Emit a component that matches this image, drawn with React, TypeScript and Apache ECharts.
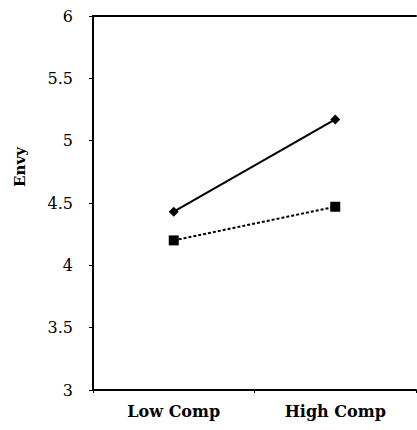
import React, { useEffect, useRef } from "react";
import * as echarts from "echarts";

const categories = ["Low Comp", "High Comp"];
const diamondSeries = [4.43, 5.17];
const squareSeries = [4.2, 4.47];
const yTicks = { min: 3, max: 6, interval: 0.5 };
const yAxisTitle = "Envy";

const FONT = "DejaVu Serif";

export default function App() {
  const ref = useRef<HTMLDivElement>(null);
  useEffect(() => {
    if (!ref.current) return;
    const chart = echarts.init(ref.current, null, { renderer: "svg" });
    chart.setOption({
      animation: false,
      backgroundColor: "#ffffff",
      grid: { left: 93, right: 1, top: 16, bottom: 40 },
      xAxis: [
        {
          type: "category",
          data: categories,
          boundaryGap: true,
          axisLine: { show: true, lineStyle: { color: "#000", width: 2 } },
          axisTick: { show: true, length: 3, lineStyle: { color: "#000", width: 1 } },
          axisLabel: {
            color: "#000",
            fontFamily: FONT,
            fontWeight: "bold",
            fontSize: 16,
            margin: 13,
          },
          splitLine: { show: false },
        },
        {
          type: "category",
          data: categories,
          position: "top",
          axisLine: { show: true, lineStyle: { color: "#000", width: 2 } },
          axisTick: { show: false },
          axisLabel: { show: false },
        },
      ],
      yAxis: {
        type: "value",
        min: yTicks.min,
        max: yTicks.max,
        interval: yTicks.interval,
        axisLine: { show: true, lineStyle: { color: "#000", width: 2 } },
        axisTick: { show: true, length: 4, lineStyle: { color: "#000", width: 1 } },
        axisLabel: {
          color: "#000",
          fontFamily: FONT,
          fontSize: 16,
          margin: 20,
        },
        splitLine: { show: false },
      },
      graphic: [
        {
          type: "text",
          x: 20,
          y: 167,
          rotation: Math.PI / 2,
          style: {
            text: yAxisTitle,
            fill: "#000",
            fontFamily: FONT,
            fontWeight: "bold",
            fontSize: 15,
            align: "center",
            verticalAlign: "middle",
          },
        },
      ],
      series: [
        {
          type: "line",
          data: diamondSeries,
          symbol: "diamond",
          symbolSize: 10,
          itemStyle: { color: "#000" },
          lineStyle: { color: "#000", width: 2, type: "solid" },
        },
        {
          type: "line",
          data: squareSeries,
          symbol: "rect",
          symbolSize: 10,
          itemStyle: { color: "#000" },
          lineStyle: { color: "#000", width: 2, type: [3, 2] },
        },
      ],
    });
    return () => chart.dispose();
  }, []);
  return (
    <div
      ref={ref}
      style={{ position: "fixed", left: 0, top: 0, width: 417, height: 430 }}
    />
  );
}
